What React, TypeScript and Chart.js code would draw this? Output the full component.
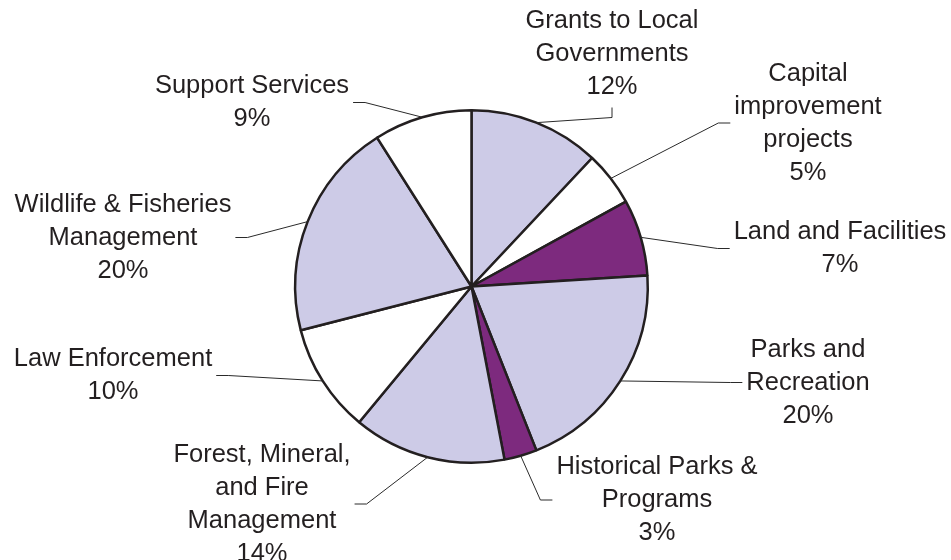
import React, { useEffect, useRef } from "react";
import { Chart, registerables } from "chart.js";

Chart.register(...registerables);

// ---- data ----
const categories: string[] = [
  "Grants to Local\nGovernments",
  "Capital\nimprovement\nprojects",
  "Land and Facilities",
  "Parks and\nRecreation",
  "Historical Parks &\nPrograms",
  "Forest, Mineral,\nand Fire\nManagement",
  "Law Enforcement",
  "Wildlife & Fisheries\nManagement",
  "Support Services",
];
const shares: number[] = [12, 5, 7, 20, 3, 14, 10, 20, 9];

// ---- styles / layout ----
const LAV = "#cdcbe7";
const WHITE = "#ffffff";
const PURPLE = "#7d2a7e";
const sliceColors = [LAV, WHITE, PURPLE, LAV, PURPLE, LAV, WHITE, LAV, WHITE];

// label block centres (page px) and which side the leader line attaches to
const labelCenters: [number, number][] = [
  [612, 54],
  [808, 123],
  [840, 248.5],
  [808, 382.5],
  [657, 500],
  [262, 504],
  [113, 375.5],
  [123, 237.5],
  [252, 102.5],
];
const labelSides: string[] = ["bottom", "left", "left", "left", "left", "right", "right", "right", "right"];

const FONT = "25.5px 'Liberation Sans', Arial, sans-serif";
const LINE_H = 33;
const TEXT_COLOR = "#231f20";

const labelPlugin = {
  id: "outsideLabels",
  afterDatasetsDraw(chart: any) {
    const ctx = chart.ctx as CanvasRenderingContext2D;
    const meta = chart.getDatasetMeta(0);
    ctx.save();
    ctx.font = FONT;
    meta.data.forEach((arc: any, i: number) => {
      const p = arc.getProps(["x", "y", "startAngle", "endAngle", "outerRadius"], true);
      const mid = (p.startAngle + p.endAngle) / 2;
      const sx = p.x + Math.cos(mid) * p.outerRadius;
      const sy = p.y + Math.sin(mid) * p.outerRadius;
      const lines = [...categories[i].split("\n"), `${shares[i]}%`];
      const [cx, cy] = labelCenters[i];
      const widths = lines.map((l) => ctx.measureText(l).width);
      const w = Math.max(...widths);
      const h = lines.length * LINE_H;
      let ex = cx, ey = cy, bx = cx, by = cy;
      const side = labelSides[i];
      if (side === "left") {
        ex = cx - w / 2 - 4; ey = cy; bx = ex - 12; by = ey;
      } else if (side === "right") {
        ex = cx + w / 2 + 4; ey = cy; bx = ex + 12; by = ey;
      } else {
        ex = cx; ey = cy + h / 2 + 4; bx = ex; by = ey + 10;
      }
      ctx.strokeStyle = "#2a2a2a";
      ctx.lineWidth = 1;
      ctx.beginPath();
      ctx.moveTo(sx, sy);
      ctx.lineTo(bx, by);
      ctx.lineTo(ex, ey);
      ctx.stroke();

      ctx.fillStyle = TEXT_COLOR;
      ctx.textAlign = "center";
      ctx.textBaseline = "middle";
      lines.forEach((l, k) => {
        const ly = cy - h / 2 + LINE_H / 2 + k * LINE_H;
        ctx.fillText(l, cx, ly);
      });
    });
    ctx.restore();
  },
};

export default function App() {
  const ref = useRef<HTMLCanvasElement | null>(null);
  useEffect(() => {
    if (!ref.current) return;
    const chart = new Chart(ref.current, {
      type: "pie",
      data: {
        labels: categories,
        datasets: [
          {
            data: shares,
            backgroundColor: sliceColors,
            borderColor: "#231f20",
            borderWidth: 2.5,
          },
        ],
      },
      options: {
        animation: false,
        responsive: false,
        devicePixelRatio: 1,
        layout: { padding: { top: 109, bottom: 96, left: 0, right: 8 } },
        plugins: {
          legend: { display: false },
          tooltip: { enabled: false },
        },
      },
      plugins: [labelPlugin],
    });
    return () => chart.destroy();
  }, []);
  return (
    <div style={{ position: "absolute", left: 0, top: 0, width: 951, height: 560, background: "#fff" }}>
      <canvas ref={ref} width={951} height={560} />
    </div>
  );
}
